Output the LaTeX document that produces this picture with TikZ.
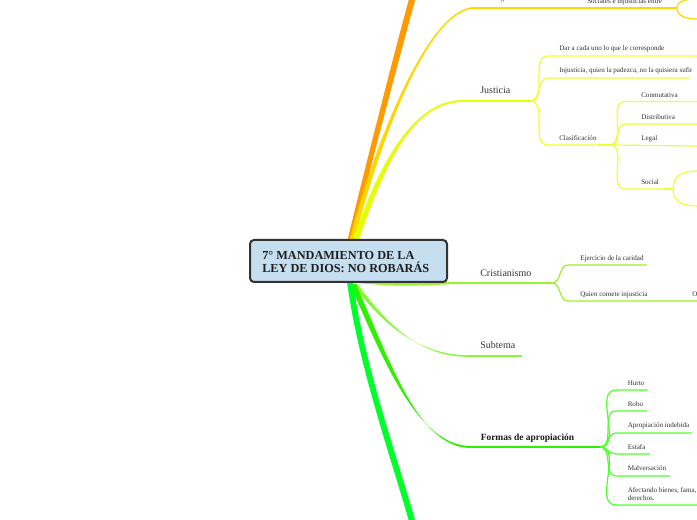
\documentclass[tikz,border=0pt]{standalone}
\usepackage{fontspec}
\setmainfont{Liberation Serif}
\usetikzlibrary{calc}
\definecolor{tc}{HTML}{333333}
\definecolor{orangeb}{HTML}{FF9A00}
\definecolor{yelb}{HTML}{FFD700}
\definecolor{jusb}{HTML}{E4FF00}
\definecolor{jusk}{HTML}{EEFF30}
\definecolor{crib}{HTML}{9CF02E}
\definecolor{subb}{HTML}{88F83A}
\definecolor{forb}{HTML}{2EF000}
\definecolor{fork}{HTML}{50FF30}
\definecolor{botb}{HTML}{00FF2A}
\definecolor{boxfill}{HTML}{C5DEF0}
\definecolor{boxline}{HTML}{333333}
\newcommand\taperbranch[7]{\fill[#1] ($(#2)-(#6)$) .. controls ($(#3)-(#6)$) and ($(#4)-(#7)$) .. ($(#5)-(#7)$) -- ($(#5)+(#7)$) .. controls ($(#4)+(#7)$) and ($(#3)+(#6)$) .. ($(#2)+(#6)$) -- cycle;}
\begin{document}
\begin{tikzpicture}[x=0.75pt,y=-0.75pt,
  txt/.style={anchor=base west,inner sep=0,text=tc,font=\fontsize{5.3}{5.8}\selectfont},
  topic/.style={anchor=base west,inner sep=0,text=tc,font=\fontsize{7.5}{9}\selectfont},
  titletxt/.style={anchor=base west,inner sep=0,text=black!88,font=\bfseries\fontsize{9.2}{9.5}\selectfont},
  kid/.style={line width=0.9pt},
  uline/.style={line width=1.1pt},
  rootbox/.style={draw=boxline,line width=1.5pt,fill=boxfill,rounded corners=3pt,minimum width=147.75pt,minimum height=31.5pt,inner sep=0},
  ]
\useasboundingbox (0,0) rectangle (697,520);
\clip (0,0) rectangle (697,520);

% ---------- main branch coordinates ----------
\coordinate (o0) at (350,240); \coordinate (o1) at (367,170); \coordinate (o2) at (396,58); \coordinate (o3) at (413,-4);
\coordinate (y0) at (352,240); \coordinate (y1) at (375,150); \coordinate (y2) at (425,14); \coordinate (y3) at (472,8);
\coordinate (j0) at (355,242); \coordinate (j1) at (380,170); \coordinate (j2) at (410,102); \coordinate (j3) at (462,101);
\coordinate (c0) at (360,282); \coordinate (c3) at (450,283);
\coordinate (s0) at (355,284); \coordinate (s1) at (385,325); \coordinate (s2) at (420,356); \coordinate (s3) at (468,356);
\coordinate (f0) at (353,284); \coordinate (f1) at (390,370); \coordinate (f2) at (420,446); \coordinate (f3) at (470,447);
\coordinate (b0) at (350,282); \coordinate (b1) at (362,370); \coordinate (b2) at (396,462); \coordinate (b3) at (414,528);

% ---------- main branches ----------
\taperbranch{orangeb}{o0}{o1}{o2}{o3}{2.5,0}{3.2,0}
\taperbranch{yelb}{y0}{y1}{y2}{y3}{2.5,0}{0,0.9}
\taperbranch{jusb}{j0}{j1}{j2}{j3}{3,0}{0,1}
\draw[crib,line width=2pt] (c0) .. controls (400,285) .. (c3);
\taperbranch{subb}{s0}{s1}{s2}{s3}{2.5,0}{0,0.8}
\taperbranch{forb}{f0}{f1}{f2}{f3}{3,0}{0,1}
\taperbranch{botb}{b0}{b1}{b2}{b3}{3,0}{3.2,0}

% ---------- root ----------
\node[rootbox] (root) at (348.5,261) {};
\node[titletxt] (title1) at (262,260) {7° MANDAMIENTO DE LA};
\node[titletxt] (title2) at (262,272.5) {LEY DE DIOS: NO ROBARÁS};

% ---------- top (yellow) ----------
\coordinate (yJ) at (580,8); \coordinate (socE) at (677,8);
\coordinate (socU) at (697,-1); \coordinate (socD) at (697,19);
\draw[yelb,uline] (y3) -- (yJ);
\draw[yelb,kid] (yJ) -- (socE);
\draw[yelb,kid] (socE) .. controls (677,1) and (686,-1) .. (socU);
\draw[yelb,kid] (socE) .. controls (677,16) and (686,19) .. (socD);
\node[txt] (desig) at (482,1) {la desigualdades};
\node[txt] (socin) at (587,4) {Sociales e injusticias entre};

% ---------- Justicia ----------
\coordinate (jJ) at (530,101);
\draw[jusb,uline] (j3) -- (jJ);
\node[topic] (justicia) at (480,94) {Justicia};
\coordinate (darS) at (548,56); \coordinate (darE) at (697,56);
\coordinate (injS) at (548,78); \coordinate (injE) at (690,78);
\coordinate (claS) at (548,145); \coordinate (cJ) at (610,145);
\draw[jusk,kid] (jJ) to[out=0,in=180] (darS) -- (darE);
\draw[jusk,kid] (jJ) to[out=0,in=180] (injS) -- (injE);
\draw[jusk,kid] (jJ) to[out=0,in=180] (claS) -- (cJ);
\draw[jusk,line width=1.6pt] ($(cJ)+(-12,0)$) -- (cJ);
\node[txt] (dar) at (559,51) {Dar a cada uno lo que le corresponde};
\node[txt] (inj) at (559,73) {Injusticia, quien la padezca, no la quisiera sufir};
\node[txt] (cla) at (559,140.7) {Clasificación};
\coordinate (conS) at (625,101.5); \coordinate (conE) at (697,101.5);
\coordinate (disS) at (625,124); \coordinate (disE) at (697,124);
\coordinate (legE) at (697,146);
\coordinate (socS) at (625,189); \coordinate (sJ) at (673,189);
\coordinate (sU) at (697,171); \coordinate (sD) at (697,206);
\draw[jusk,kid] (cJ) to[out=0,in=180] (conS) -- (conE);
\draw[jusk,kid] (cJ) to[out=0,in=180] (disS) -- (disE);
\draw[jusk,kid] (cJ) -- (legE);
\draw[jusk,kid] (cJ) to[out=0,in=180] (socS) -- (sJ);
\draw[jusk,line width=1.6pt] ($(sJ)+(-10,0)$) -- (sJ);
\draw[jusk,kid] (sJ) .. controls (673,175) and (683,171) .. (sU);
\draw[jusk,kid] (sJ) .. controls (673,202) and (683,206) .. (sD);
\node[txt] (con) at (641,97.7) {Conmutativa};
\node[txt] (dis) at (641,119.3) {Distributiva};
\node[txt] (leg) at (641,140.7) {Legal};
\node[txt] (soc) at (641,184.3) {Social};

% ---------- Cristianismo ----------
\coordinate (kJ) at (552,283);
\draw[crib,uline] (c3) -- (kJ);
\node[topic] (cristianismo) at (480,276.5) {Cristianismo};
\coordinate (ejeS) at (568,265); \coordinate (ejeE) at (647,265);
\coordinate (quiS) at (568,301); \coordinate (quiE) at (697,301);
\draw[crib,kid] (kJ) to[out=0,in=180] (ejeS) -- (ejeE);
\draw[crib,kid] (kJ) to[out=0,in=180] (quiS) -- (quiE);
\node[txt] (eje) at (580,260.7) {Ejercicio de la caridad};
\node[txt] (qui) at (580,296.7) {Quien comete injusticia};
\node[txt] (oo) at (692,296.7) {O};

% ---------- Subtema ----------
\coordinate (s4) at (522,356);
\draw[subb,uline] (s3) -- (s4);
\node[topic] (subtema) at (480,349) {Subtema};

% ---------- Formas de apropiacion ----------
\coordinate (fJ) at (600,447);
\draw[forb,uline] (f3) -- (fJ);
\draw[forb,line width=2pt] ($(fJ)+(-13,0)$) -- (fJ);
\node[topic,font=\bfseries\fontsize{7.1}{8.5}\selectfont,text=black!90] (formas) at (480.5,440.5) {Formas de apropiación};
\coordinate (hurS) at (616,390); \coordinate (hurE) at (648,390);
\coordinate (robS) at (616,411); \coordinate (robE) at (647,411);
\coordinate (aprS) at (616,433); \coordinate (aprE) at (692,433);
\coordinate (estS) at (616,454); \coordinate (estE) at (650,454);
\coordinate (malS) at (616,476); \coordinate (malE) at (670,476);
\coordinate (afeS) at (616,505); \coordinate (afeE) at (697,505);
\draw[fork,kid] (fJ) to[out=0,in=180] (hurS) -- (hurE);
\draw[fork,kid] (fJ) to[out=0,in=180] (robS) -- (robE);
\draw[fork,kid] (fJ) to[out=0,in=180] (aprS) -- (aprE);
\draw[fork,kid] (fJ) to[out=0,in=180] (estS) -- (estE);
\draw[fork,kid] (fJ) to[out=0,in=180] (malS) -- (malE);
\draw[fork,kid] (fJ) to[out=0,in=180] (afeS) -- (afeE);
\node[txt] (hur) at (627.5,385.3) {Hurto};
\node[txt] (rob) at (627.5,406.7) {Robo};
\node[txt] (apr) at (627.5,427.7) {Apropiación indebida};
\node[txt] (est) at (627.5,450) {Estafa};
\node[txt] (mal) at (627.5,471) {Malversación};
\node[txt] (afe1) at (627.5,492.7) {Afectando bienes, fama,};
\node[txt] (afe2) at (627.5,500.4) {derechos.};
\end{tikzpicture}
\end{document}
